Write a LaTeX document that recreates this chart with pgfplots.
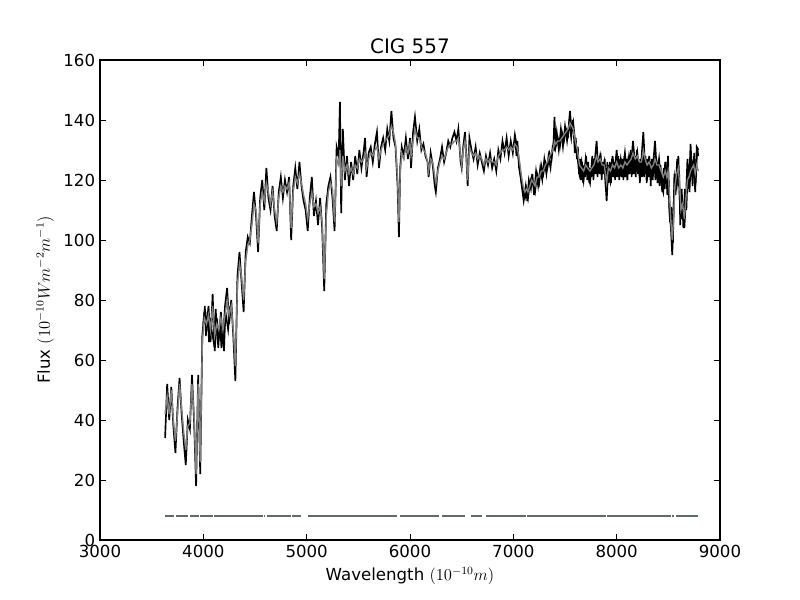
\documentclass[border=0pt]{standalone}
\usepackage{fontspec}
\setmainfont{DejaVu Sans}
\usepackage{pgfplots}
\pgfplotsset{compat=1.18}
\usepackage{pgfplotstable}
\definecolor{maskc}{HTML}{5F6B6B}
\definecolor{modc}{HTML}{808080}
\pgfplotstableread{
lam obs mod
3630 34 42
3650 52 48
3670 40 42
3690 51 50
3710 38 40
3730 29 33
3750 44 42
3770 54 52
3790 42 44
3810 33 36
3830 25 30
3850 40 38
3870 37 39
3890 55 52
3910 40 42
3930 18 22
3950 55 52
3970 22 26
3990 68 66
4010 76 74
4030 70 72
4050 78 75
4070 66 70
4090 82 78
4110 63 68
4130 74 72
4150 67 70
4170 76 74
4190 66 70
4210 78 75
4230 84 80
4250 72 75
4270 80 78
4290 68 70
4310 53 58
4330 88 85
4350 96 92
4370 86 88
4390 76 80
4410 96 93
4430 101 98
4450 99 100
4470 108 105
4490 116 112
4510 108 110
4530 96 99
4550 114 112
4570 120 116
4590 110 113
4610 124 119
4630 114 116
4650 110 112
4670 118 116
4690 108 110
4710 103 106
4730 116 114
4750 121 118
4770 114 116
4790 120 118
4810 116 117
4830 121 119
4850 100 104
4870 118 116
4890 124 121
4910 117 119
4930 126 122
4950 118 119
4970 113 115
4990 110 112
5010 103 107
5030 114 112
5050 121 116
5070 108 111
5090 113 112
5110 105 109
5130 114 111
5150 104 106
5170 83 87
5190 112 108
5210 118 116
5230 121 119
5250 114 117
5270 103 106
5290 131 127
5310 128 125
5322 146 130
5334 109 118
5350 137 128
5370 120 123
5390 128 125
5410 118 122
5430 126 124
5450 120 122
5470 128 125
5490 122 124
5510 130 127
5530 124 126
5550 129 127
5565 134 129
5580 121 124
5600 129 127
5620 131 129
5640 126 128
5660 132 130
5680 136 131
5700 124 127
5720 131 130
5740 134 132
5760 130 133
5780 137 134
5800 133 135
5820 143 138
5840 134 136
5860 131 132
5880 118 120
5893 101 106
5905 124 122
5920 131 129
5940 128 127
5960 134 131
5980 127 129
6000 134 132
6010 124 128
6030 136 133
6048 141 137
6070 133 134
6090 137 134
6110 130 131
6130 132 130
6150 128 129
6170 126 126
6180 121 123
6200 129 127
6220 125 126
6240 118 121
6250 116 119
6270 124 123
6290 127 126
6310 131 128
6330 126 127
6350 129 129
6370 133 131
6390 131 132
6410 134 132
6430 136 133
6450 133 133
6468 137 134
6490 126 128
6500 124 125
6515 131 130
6532 136 133
6545 128 128
6558 118 120
6575 134 131
6595 130 129
6615 127 128
6635 131 129
6655 125 127
6675 129 128
6695 126 127
6715 123 125
6735 128 127
6755 125 126
6775 129 127
6795 124 126
6815 127 126
6835 123 125
6855 130 128
6875 127 129
6895 133 130
6915 129 130
6935 134 131
6955 128 130
6975 133 131
6995 129 130
7015 135 132
7035 131 131
7048 128 129
7065 123 125
7080 119 121
7095 116 118
7112 114 116
7128 117 117
7142 114 116
7160 119 118
7177 121 120
7195 118 119
7210 116 118
7230 122 121
7250 119 121
7270 125 123
7290 122 123
7310 126 125
7330 124 126
7350 129 128
7370 127 129
7390 133 131
7398 141 133
7410 131 132
7430 134 133
7450 131 133
7470 136 134
7490 133 135
7510 137 136
7530 135 137
7548 143 139
7565 136 138
7580 139 137
7600 132 133
7620 128 130
7640 122 125
7660 126 124
7680 120 123
7700 127 125
7720 122 124
7742 119 123
7760 126 124
7780 123 125
7806 133 128
7820 124 126
7840 128 127
7860 123 125
7880 126 125
7903 113 119
7920 125 124
7940 120 123
7960 128 125
7980 122 124
8000 130 126
8020 121 124
8040 127 125
8060 123 124
8080 129 126
8100 122 125
8120 128 126
8140 125 127
8158 133 129
8180 124 127
8200 129 128
8220 122 126
8240 127 126
8258 136 130
8275 124 127
8295 121 125
8315 128 126
8335 120 124
8355 126 125
8371 133 127
8390 122 125
8410 127 125
8430 119 123
8451 116 121
8470 126 123
8485 118 121
8497 128 123
8510 110 116
8525 104 106
8538 95 100
8552 112 108
8564 121 118
8580 118 122
8597 128 124
8610 114 118
8622 107 110
8638 112 112
8655 104 107
8670 113 114
8685 127 120
8700 117 121
8715 132 123
8730 122 124
8745 127 125
8760 116 122
8775 131 125
8790 130 123
}\spec
\pgfplotstableread{
lam obs
4000 72
4015 78
4025 68
4040 76
4055 66
4065 74
4080 70
4100 66
4120 77
4135 68
4145 64
4160 72
4175 64
4185 70
4200 63
4215 76
4240 70
4260 78
4280 nan
7020 133
7030 128
7040 133
7055 124
7070 121
7085 117
7100 113
7120 118
7135 113
7150 120
7170 117
7185 122
7200 115
7220 123
7240 118
7260 124
7280 120
7300 127
7320 122
7340 128
7360 124
7380 131
7400 130
7420 136
7440 130
7460 137
7480 131
7500 138
7520 133
7540 139
7560 134
7575 140
7580 nan
7585 135
7595 129
7605 134
7615 127
7625 131
7635 122
7645 127
7655 120
7665 126
7675 119
7685 125
7695 121
7705 128
7715 120
7725 126
7735 119
7745 124
7755 121
7765 128
7775 120
7785 127
7795 122
7805 131
7815 121
7825 127
7835 122
7845 129
7855 120
7865 126
7875 122
7885 127
7895 117
7910 126
7925 119
7935 126
7945 119
7955 127
7965 121
7975 126
7985 120
7995 128
8005 121
8015 128
8025 120
8035 127
8045 121
8055 127
8065 120
8075 128
8085 121
8095 127
8105 120
8115 128
8125 122
8135 130
8145 121
8155 129
8165 122
8175 128
8185 121
8195 130
8205 122
8215 127
8225 119
8235 127
8245 121
8255 130
8265 121
8280 128
8290 119
8300 127
8310 121
8320 126
8330 118
8340 127
8350 120
8360 128
8375 120
8385 127
8395 119
8405 126
8415 118
8425 125
8440 116
8455 124
8465 117
8475 126
8490 115
8505 120
8515 106
8530 111
8545 99
8558 122
8570 115
8585 127
8595 118
8605 123
8615 105
8630 117
8645 104
8660 117
8675 110
8690 125
8705 116
8720 127
8735 118
8750 129
8765 119
8780 131
8790 128
}\obsx
\begin{document}
\begin{tikzpicture}
\begin{axis}[
  at={(0,0)}, anchor=south west,
  scale only axis, width=6.2in, height=4.8in,
  xmin=3000, xmax=9000, ymin=0, ymax=160,
  xtick={3000,4000,...,9000}, ytick={0,20,...,160},
  /pgf/number format/assume math mode=true,
  scaled x ticks=false,
  xticklabel style={/pgf/number format/1000 sep={}},
  ticklabel style={font=\fontsize{12}{14}\selectfont},
  label style={font=\fontsize{12}{14}\selectfont},
  title style={font=\fontsize{14.4}{17}\selectfont, yshift=-5pt},
  title={CIG 557},
  xlabel={Wavelength $(10^{-10}m)$},
  ylabel={Flux $(10^{-10}Wm^{-2}m^{-1})$},
  major tick length=4pt,
  tick style={black, line width=0.5pt},
  axis line style={line width=0.8pt},
  unbounded coords=jump,
  clip=true,
]
\addplot[black, line width=1.1pt] table[x=lam, y=obs] {\obsx};
\addplot[black, line width=1.2pt] table[x=lam, y=obs] {\spec};
\addplot[modc, line width=1pt] table[x=lam, y=mod] {\spec};
\addplot[maskc, line width=1.5pt] coordinates {
(3629,8) (3716,8) (3720,nan)
(3733,8) (3847,8) (3850,nan)
(3871,8) (3958,8) (3960,nan)
(3968,8) (4094,8) (4098,nan)
(4103,8) (4573,8) (4580,nan)
(4587,8) (4597,8) (4600,nan)
(4616,8) (4845,8) (4850,nan)
(4858,8) (4942,8) (4950,nan)
(5013,8) (5874,8) (5880,nan)
(5903,8) (6277,8) (6290,nan)
(6310,8) (6532,8) (6550,nan)
(6594,8) (6694,8) (6710,nan)
(6739,8) (7119,8) (7125,nan)
(7132,8) (7894,8) (7900,nan)
(7906,8) (8523,8) (8530,nan)
(8540,8) (8555,8) (8560,nan)
(8574,8) (8787,8)
};
\end{axis}
\pgfresetboundingbox
\path[use as bounding box] (-1in,-0.6in) rectangle (7.0in,5.4in);
\end{tikzpicture}
\end{document}
